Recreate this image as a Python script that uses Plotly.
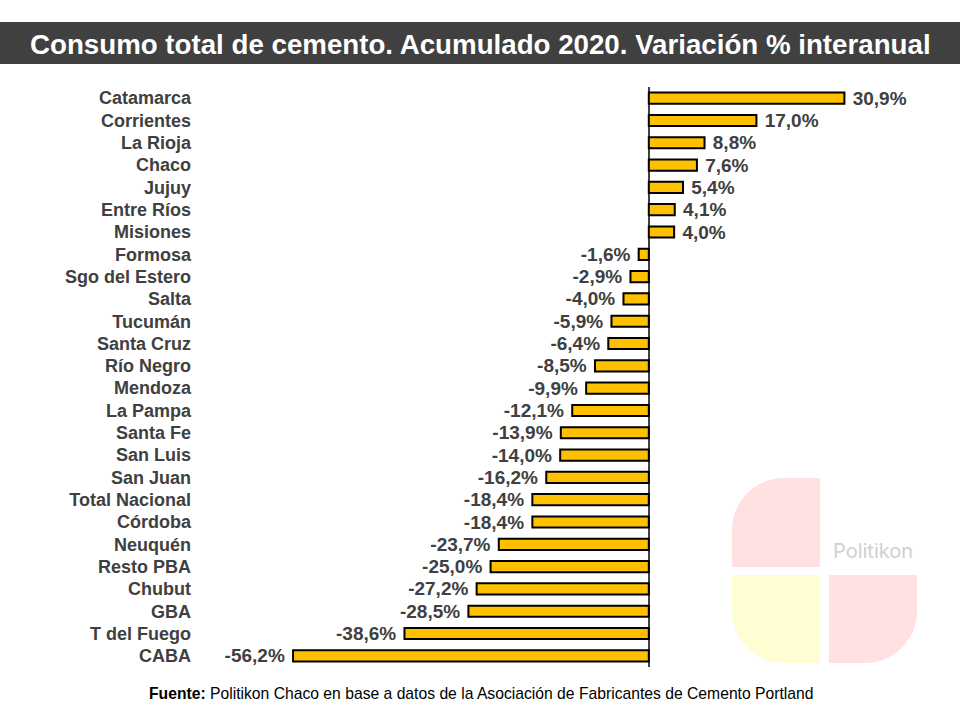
import plotly.graph_objects as go

# Datos: variación % interanual del consumo de cemento, acumulado 2020
provincias = ["Catamarca", "Corrientes", "La Rioja", "Chaco", "Jujuy", "Entre Ríos",
              "Misiones", "Formosa", "Sgo del Estero", "Salta", "Tucumán", "Santa Cruz",
              "Río Negro", "Mendoza", "La Pampa", "Santa Fe", "San Luis", "San Juan",
              "Total Nacional", "Córdoba", "Neuquén", "Resto PBA", "Chubut", "GBA",
              "T del Fuego", "CABA"]
variacion = [30.9, 17.0, 8.8, 7.6, 5.4, 4.1, 4.0, -1.6, -2.9, -4.0, -5.9, -6.4,
             -8.5, -9.9, -12.1, -13.9, -14.0, -16.2, -18.4, -18.4, -23.7, -25.0,
             -27.2, -28.5, -38.6, -56.2]

# etiquetas con un pequeño espacio entre barra y texto
etiquetas = []
for v in variacion:
    s = f"{v:.1f}%".replace(".", ",")
    etiquetas.append("\u00a0" + s if v >= 0 else s + "\u00a0")

W, H = 960, 720
L, R, T, B = 200, 20, 87, 53
PW, PH = W - L - R, H - T - B


def px(x):
    return (x - L) / PW


def py(y):
    return (H - B - y) / PH


fig = go.Figure()
fig.add_trace(go.Bar(
    x=variacion, y=provincias, orientation="h", width=0.5,
    marker=dict(color="#FFC000", line=dict(color="#000000", width=2)),
    text=etiquetas, textposition="outside", cliponaxis=False, constraintext="none",
    textfont=dict(family="Liberation Sans, Arial, sans-serif", size=19,
                  color="#404040", weight="bold"),
    hoverinfo="skip",
))


def cuadrante(x0, y0, x1, y1, r, color):
    # cuadrante con la esquina exterior (x0, y0) redondeada
    sx = 1 if x1 > x0 else -1
    sy = 1 if y1 > y0 else -1
    k = 0.45
    pts = [
        f"M {px(x1)},{py(y0)}",
        f"L {px(x0 + sx * r)},{py(y0)}",
        f"C {px(x0 + sx * r * k)},{py(y0)} {px(x0)},{py(y0 + sy * r * k)} {px(x0)},{py(y0 + sy * r)}",
        f"L {px(x0)},{py(y1)}",
        f"L {px(x1)},{py(y1)}",
        "Z",
    ]
    return dict(type="path", xref="paper", yref="paper", path=" ".join(pts),
                fillcolor=color, line=dict(width=0), layer="below")


shapes = [
    # barra de título
    dict(type="rect", xref="paper", yref="paper", x0=px(0), x1=px(W),
         y0=py(64), y1=py(22), fillcolor="#404040", line=dict(width=0)),
    # logo de fondo
    cuadrante(732, 478, 820, 567, 52, "#FFE1E1"),
    cuadrante(732, 663, 820, 575, 52, "#FFFED3"),
    cuadrante(917, 663, 829, 575, 52, "#FFE1E1"),
]

annotations = [
    dict(text="Consumo total de cemento. Acumulado 2020. Variación % interanual",
         xref="paper", yref="paper", x=px(480), y=py(44), xanchor="center", yanchor="middle",
         showarrow=False,
         font=dict(family="Liberation Sans Narrow, Arial Narrow, Liberation Sans, sans-serif",
                   size=27.7, color="white", weight="bold")),
    dict(text="<b>Fuente:</b> Politikon Chaco en base a datos de la Asociación de Fabricantes de Cemento Portland",
         xref="paper", yref="paper", x=px(481), y=py(693), xanchor="center", yanchor="middle",
         showarrow=False,
         font=dict(family="Liberation Sans, Arial, sans-serif", size=15.7, color="#000000")),
    dict(text="Politikon", xref="paper", yref="paper", x=px(873), y=py(551),
         xanchor="center", yanchor="middle", showarrow=False,
         font=dict(family="Inter, Noto Sans, sans-serif", size=20, color="#D0D0D0")),
]

fig.update_layout(
    width=W, height=H, margin=dict(l=L, r=R, t=T, b=B),
    paper_bgcolor="white", plot_bgcolor="rgba(0,0,0,0)",
    showlegend=False, shapes=shapes, annotations=annotations,
)
fig.update_xaxes(range=[-70.9, 46.0], showgrid=False, showticklabels=False,
                 zeroline=True, zerolinecolor="#404040", zerolinewidth=2)
fig.update_yaxes(autorange="reversed", showgrid=False, ticks="", ticklabelstandoff=8,
                 tickfont=dict(family="Liberation Sans, Arial, sans-serif", size=18,
                               color="#404040", weight="bold"))

fig.write_html("out.html", config={"displayModeBar": False},
               post_script="document.body.style.margin='0';")
